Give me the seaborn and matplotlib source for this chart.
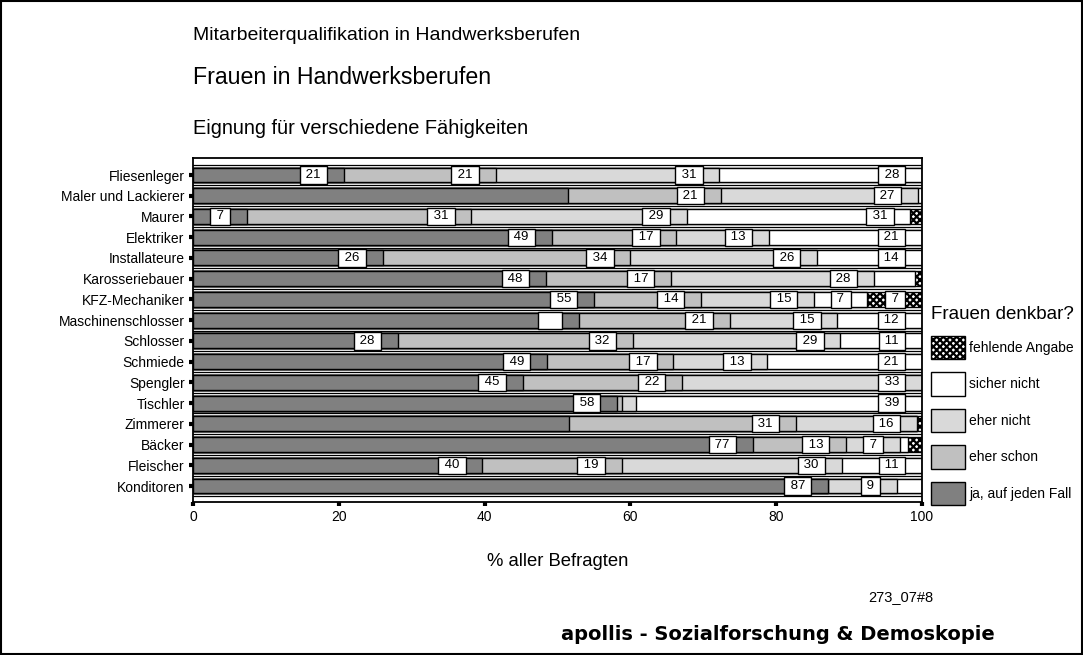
import matplotlib
matplotlib.use("Agg")
import matplotlib.pyplot as plt
import seaborn as sns
import pandas as pd
import numpy as np
from matplotlib.patches import Patch, Rectangle

categories = ["Fliesenleger", "Maler und Lackierer", "Maurer", "Elektriker", "Installateure",
              "Karosseriebauer", "KFZ-Mechaniker", "Maschinenschlosser", "Schlosser", "Schmiede",
              "Spengler", "Tischler", "Zimmerer", "Bäcker", "Fleischer", "Konditoren"]

ja      = [20.7, 51.4, 7.4, 49.2, 26.0, 48.4, 55.0, 52.9, 28.1, 48.6, 45.2, 58.2, 51.6, 76.8, 39.7, 87.1]
schon   = [20.8, 21.0, 30.8, 17.1, 34.0, 17.2, 14.7, 20.7, 32.2, 17.3, 21.9, 0.7, 31.1, 12.8, 19.1, 0.0]
nicht   = [30.7, 27.0, 29.5, 12.7, 25.6, 27.8, 15.5, 14.8, 28.5, 12.9, 32.9, 1.9, 16.6, 7.4, 30.2, 9.5]
sicher  = [27.8, 0.6, 30.7, 21.0, 14.4, 5.6, 7.3, 11.6, 11.2, 21.2, 0.0, 39.2, 0.0, 1.1, 11.0, 3.4]
fehlend = [0.0, 0.0, 1.6, 0.0, 0.0, 1.0, 7.5, 0.0, 0.0, 0.0, 0.0, 0.0, 0.7, 1.9, 0.0, 0.0]

# segment labels as printed in the chart (None = no label, "" = empty box)
lab_ja      = ["21", None, "7", "49", "26", "48", "55", "", "28", "49", "45", "58", None, "77", "40", "87"]
lab_schon   = ["21", "21", "31", "17", "34", "17", "14", "21", "32", "17", "22", None, "31", "13", "19", None]
lab_nicht   = ["31", "27", "29", "13", "26", "28", "15", "15", "29", "13", "33", None, "16", "7", "30", "9"]
lab_sicher  = ["28", None, "31", "21", "14", None, "7", "12", "11", "21", None, "39", None, None, "11", None]
lab_fehlend = [None, None, None, None, None, None, "7", None, None, None, None, None, None, None, None, None]

series_names = ["ja, auf jeden Fall", "eher schon", "eher nicht", "sicher nicht", "fehlende Angabe"]
series_vals = [ja, schon, nicht, sicher, fehlend]
series_labs = [lab_ja, lab_schon, lab_nicht, lab_sicher, lab_fehlend]
colors = ["#808080", "#c0c0c0", "#d9d9d9", "#ffffff", "#ffffff"]
hatches = [None, None, None, None, "xxxxx"]

sns.set_style("ticks")
plt.rcParams["font.family"] = ["Liberation Sans", "DejaVu Sans"]
plt.rcParams["hatch.linewidth"] = 1.6
for key in ["text.color", "axes.labelcolor", "xtick.color", "ytick.color", "axes.edgecolor"]:
    plt.rcParams[key] = "black"

fig = plt.figure(figsize=(10.83, 6.55), dpi=100)
ax = fig.add_axes([193 / 1083, 1 - 502 / 655, (922 - 193) / 1083, (502 - 158) / 655])

cum = np.cumsum(np.array(series_vals), axis=0)

# thin separator lines between rows
for b in np.arange(-0.5, len(categories), 1.0):
    ax.axhline(b, color="black", lw=0.9, zorder=0.5)

for k in range(len(series_vals) - 1, -1, -1):
    df = pd.DataFrame({"Beruf": categories, "Wert": cum[k]})
    sns.barplot(data=df, x="Wert", y="Beruf", orient="h", color=colors[k], saturation=1,
                width=0.72, edgecolor="black", linewidth=1.0, hatch=hatches[k],
                errorbar=None, ax=ax, zorder=2)

for k in range(len(series_vals)):
    for i, lab in enumerate(series_labs[k]):
        if lab is None:
            continue
        ax.annotate(" " + lab + " " if lab else "     ", xy=(cum[k][i], i), xytext=(-14, 0),
                    textcoords="offset points", ha="right", va="center", fontsize=9.5,
                    bbox=dict(boxstyle="square,pad=0.2", fc="white", ec="black", lw=1.0),
                    zorder=5)

ax.set_xlim(0, 100)
ax.set_ylim(len(categories) - 0.23, -0.82)
ax.set_xticks([0, 20, 40, 60, 80, 100])
ax.set_xlabel("")
ax.set_ylabel("")
ax.tick_params(axis="both", length=3, width=3, direction="out", color="black",
               labelsize=10, pad=3)
for s in ax.spines.values():
    s.set_linewidth(1.3)
    s.set_color("black")

# legend
leg_order = [4, 3, 2, 1, 0]
handles = [Patch(facecolor=colors[k], edgecolor="black", hatch=hatches[k], lw=1.0) for k in leg_order]
leg = fig.legend(handles, [series_names[k] for k in leg_order], loc="upper left",
                 bbox_to_anchor=(931 / 1083, 1 - 306 / 655), frameon=False,
                 title="Frauen denkbar?", title_fontsize=13.5, fontsize=10,
                 handlelength=2.45, handleheight=2.25, labelspacing=0.92, handletextpad=0.3,
                 alignment="left", borderaxespad=0, borderpad=0)

# titles and texts
fig.text(193 / 1083, 1 - 35 / 655, "Mitarbeiterqualifikation in Handwerksberufen",
         fontsize=14, va="center", ha="left")
fig.text(193 / 1083, 1 - 77 / 655, "Frauen in Handwerksberufen", fontsize=16.7, va="center", ha="left")
fig.text(193 / 1083, 1 - 128 / 655, "Eignung für verschiedene Fähigkeiten", fontsize=14.4,
         va="center", ha="left")
fig.text(558 / 1083, 1 - 562 / 655, "% aller Befragten", fontsize=13.3, va="center", ha="center")
fig.text(901 / 1083, 1 - 597 / 655, "273_07#8", fontsize=10.5, va="center", ha="center")
fig.text(778 / 1083, 1 - 635 / 655, "apollis - Sozialforschung & Demoskopie", fontsize=14,
         fontweight="bold", family="DejaVu Sans", va="center", ha="center")

fig.patches.append(Rectangle((0.001, 0.001), 0.998, 0.997, transform=fig.transFigure,
                             fill=False, ec="black", lw=1.5))

fig.savefig("out.png", dpi=100)
